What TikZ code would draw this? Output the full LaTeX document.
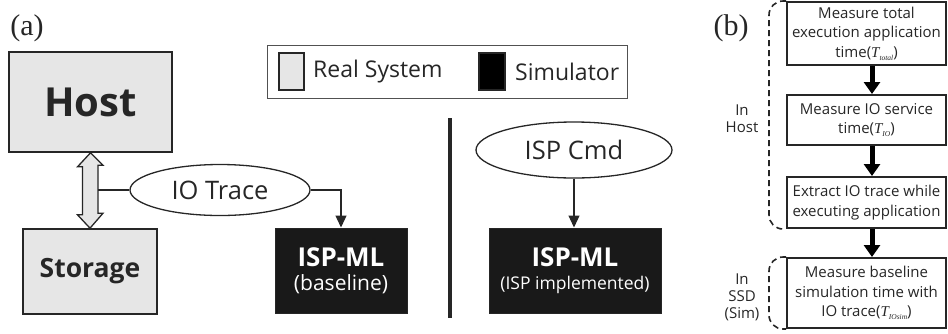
\documentclass[tikz,border=0pt]{standalone}
\usepackage{fontspec}
\setmainfont{Open Sans}
\newfontfamily\seriffont{Liberation Serif}
\usetikzlibrary{shapes.geometric,arrows.meta}
\newcommand\TT[1]{{\seriffont\itshape T}\raisebox{-0.4ex}{\seriffont\itshape\fontsize{7.5}{7.5}\selectfont #1}}
\definecolor{lgray}{HTML}{E6E6E6}
\definecolor{dk}{HTML}{262626}
\begin{document}
\begin{tikzpicture}[x=1pt,y=-1pt,
  realbox/.style={draw=dk, line width=1.6pt, fill=lgray, inner sep=0pt},
  simbox/.style={draw=dk, line width=1pt, fill=black!90, text=white, inner sep=0pt, align=center},
  ovalnode/.style={ellipse, draw=dk, line width=1.3pt, inner sep=0pt, text=dk, font=\fontsize{25.5}{25.5}\selectfont},
  conn/.style={draw=dk, line width=1.3pt},
  arrowtip/.style={-{Triangle[length=12pt,width=11pt]}},
  flowbox/.style={draw=dk, line width=2pt, minimum width=159pt, inner sep=0pt, align=center, text=dk, font=\fontsize{15}{19.5}\selectfont},
  bigarrow/.style={line width=5pt, -{Triangle[length=12pt,width=16pt]}, draw=black},
  dashbrace/.style={dash pattern=on 6pt off 4pt, line width=1.6pt, rounded corners=14pt, draw=dk},
  sidelabel/.style={align=center, text=dk, font=\fontsize{15}{17}\selectfont},
  panellabel/.style={text=dk, font=\seriffont\fontsize{30}{30}\selectfont},
  legtext/.style={anchor=west, inner sep=0pt, text=dk, font=\fontsize{23}{23}\selectfont}
]
\useasboundingbox (0,0) rectangle (948,333);

% ---------- panel (a)
\node[panellabel] (la) at (27,28) {(a)};
\node[realbox, minimum width=163, minimum height=100, text=dk, font=\bfseries\fontsize{40}{40}\selectfont] (host) at (90.5,102) {Host};
\node[realbox, minimum width=134, minimum height=85, text=dk, font=\bfseries\fontsize{26.5}{26.5}\selectfont] (stor) at (90,271.5) {Storage};

% double arrow between Host and Storage
\draw[realbox, line width=1.3pt, line join=miter] (host.south) -- ++(-13,14) -- ++(5,0) -- ++(0,48) -- ++(-5,0)
  -- (stor.north) -- ++(13,-15) -- ++(-5,0) -- ++(0,-48) -- ++(5,0) -- cycle;

\node[ovalnode, minimum width=180, minimum height=51] (io) at (220,190) {IO Trace};
\coordinate (tap) at (98,190);
\draw[conn] (tap) -- (io.west);

\node[simbox, minimum width=132, minimum height=85, font=\fontsize{21}{25}\selectfont] (isp1) at (341,270.5)
  {{\fontsize{26}{26}\selectfont\bfseries ISP-ML}\\[-1pt](baseline)};
\draw[conn, arrowtip] (io.east) -| (isp1.north);

% separator
\draw[line width=4pt, draw=dk] (450,118) -- (450,318);

\node[ovalnode, minimum width=196, minimum height=56] (cmd) at (574,150) {ISP Cmd};
\node[simbox, minimum width=172, minimum height=85, font=\fontsize{17.5}{22}\selectfont] (isp2) at (575,270.5)
  {{\fontsize{26}{26}\selectfont\bfseries ISP-ML}\\[1pt](ISP implemented)};
\draw[conn, arrowtip] (cmd.south) -- (cmd.south |- isp2.north);

% legend
\node[draw=dk!80, line width=0.8pt, minimum width=360, minimum height=53, inner sep=0pt] (leg) at (447,71.5) {};
\node[realbox, line width=1.2pt, minimum width=25, minimum height=37] (sw1) at (291.5,71.5) {};
\node[legtext] (t1) at (313,72) {Real System};
\node[draw=dk, line width=1.2pt, fill=black, minimum width=26, minimum height=37, inner sep=0pt] (sw2) at (492,71.5) {};
\node[legtext] (t2) at (515,72) {Simulator};

% ---------- panel (b)
\node[panellabel] (lb) at (731,28) {(b)};
\node[flowbox, minimum height=63] (b1) at (866.5,33.5) {Measure total\\execution application\\time(\TT{total})};
\node[flowbox, minimum height=50] (b2) at (866.5,120) {Measure IO service\\time(\TT{IO})};
\node[flowbox, minimum height=51] (b3) at (866.5,202.5) {Extract IO trace while\\executing application};
\node[flowbox, minimum height=70] (b4) at (866.5,293) {Measure baseline\\simulation time with\\IO trace(\TT{IOsim})};

\draw[bigarrow] ([xshift=5.5pt]b1.south) -- ([xshift=5.5pt]b2.north);
\draw[bigarrow] ([xshift=5.5pt]b2.south) -- ([xshift=5.5pt]b3.north);
\draw[bigarrow] ([xshift=5.5pt]b3.south) -- ([xshift=5.5pt]b4.north);

\draw[dashbrace] (b1.north west) -- ++(-17,0) -- ([xshift=-17pt]b3.south west) -- (b3.south west);
\draw[dashbrace] (b4.north west) -- ++(-17,0) -- ([xshift=-17pt]b4.south west) -- (b4.south west);

\node[sidelabel] (inhost) at (742,119) {In\\Host};
\node[sidelabel] (inssd) at (742,297) {In\\SSD\\(Sim)};
\end{tikzpicture}
\end{document}
